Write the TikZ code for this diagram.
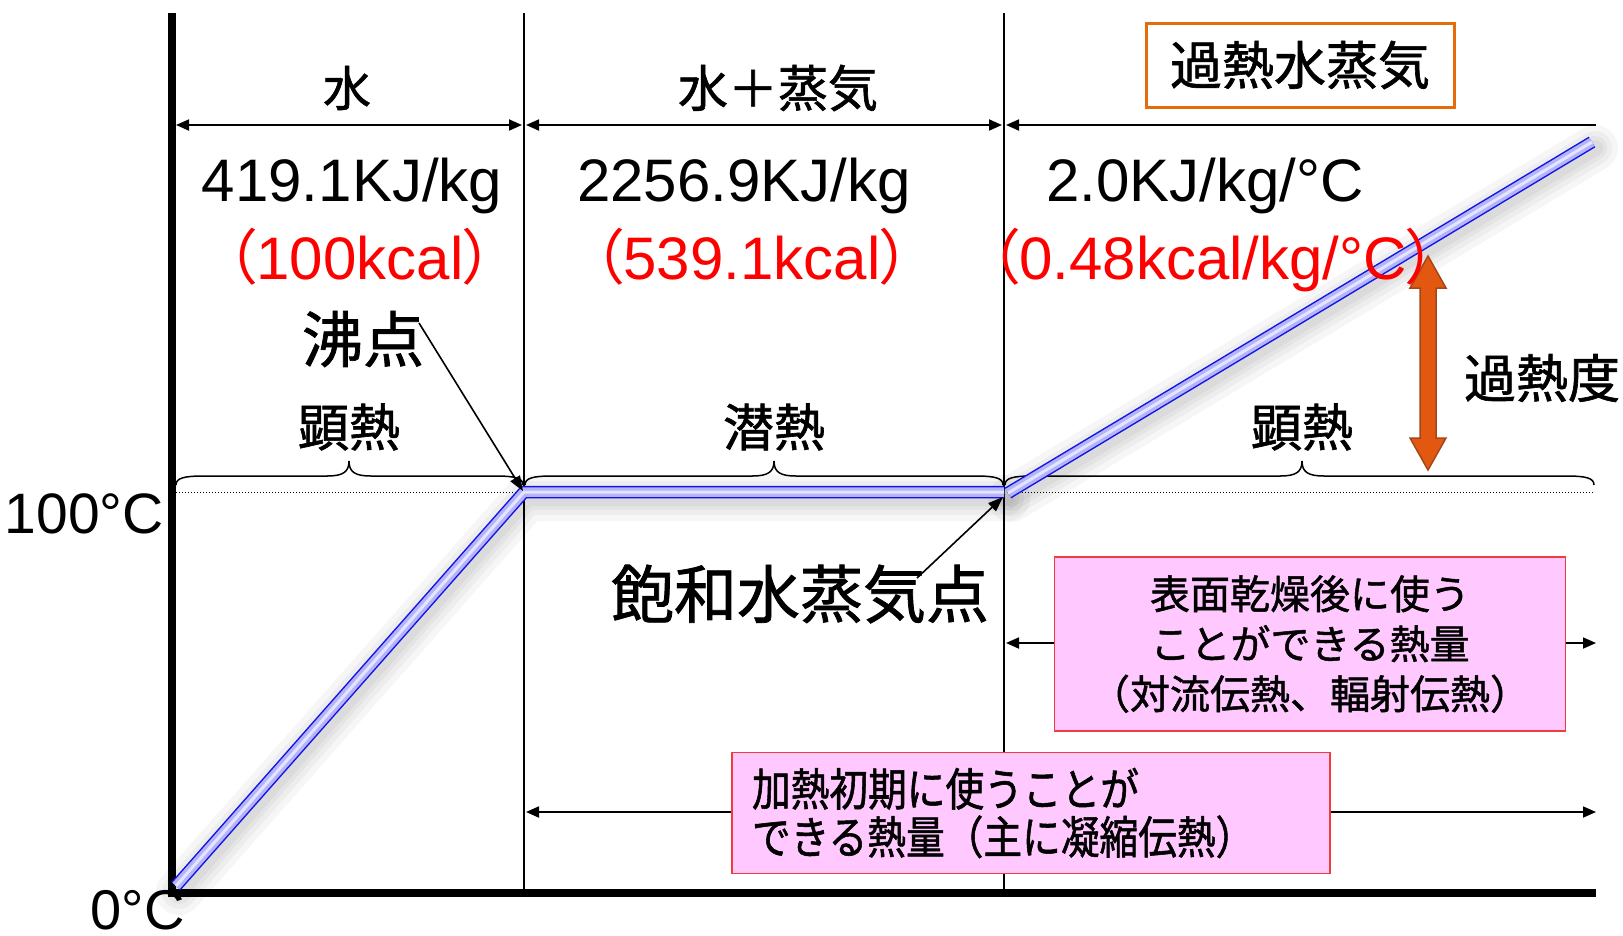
\documentclass[tikz,border=0pt]{standalone}
\usepackage{fontspec}
\setmainfont{Liberation Sans}
\newfontfamily\jp{Noto Sans CJK JP}[FakeBold=1.2]
\newfontfamily\jpp{Noto Sans CJK JP}[RawFeature=+palt]
\newfontfamily\jpc{Noto Sans CJK JP}[FakeStretch=0.86,FakeBold=1.2]
\usetikzlibrary{arrows.meta}
\newcommand\setfs[1]{\fontsize{#1}{#1}\selectfont}
\definecolor{bandblue}{RGB}{20,20,230}
\definecolor{bandfill}{RGB}{180,180,250}
\definecolor{bandlight}{RGB}{228,228,255}
\definecolor{boxpink}{RGB}{255,200,255}
\definecolor{boxred}{RGB}{240,60,60}
\definecolor{orbox}{RGB}{228,108,10}
\definecolor{arrfill}{RGB}{226,88,16}
\definecolor{arrline}{RGB}{165,70,25}
\definecolor{txtred}{RGB}{255,0,0}
\newcommand\mybrace[3]{\draw[bracestyle] (#1,485) .. controls (#1,478) and (#1+8,476) .. (#1+28,476) -- (#3-22,476) .. controls (#3-6,476) and (#3,472) .. (#3,461) .. controls (#3,472) and (#3+6,476) .. (#3+22,476) -- (#2-28,476) .. controls (#2-8,476) and (#2,478) .. (#2,485);}
\tikzset{
  dimline/.style={line width=1.8pt,{Triangle[length=13pt,width=11pt]}-{Triangle[length=13pt,width=11pt]}},
  oneway/.style={line width=1.8pt,-{Triangle[length=13pt,width=11pt]}},
  pointer/.style={line width=1.6pt,-{Triangle[length=15pt,width=11pt]}},
  vline/.style={line width=1.5pt},
  axisline/.style={line width=7.5pt},
  bracestyle/.style={line width=1.5pt},
  pinkbox/.style={draw=boxred, fill=boxpink, line width=1.5pt},
  lab/.style={font=\jp\setfs{51}, inner sep=0pt},
  num/.style={font=\setfs{60}, anchor=base, inner sep=0pt},
  rednum/.style={num, text=txtred},
  glow/.style={line width=#1, black, opacity=0.035, line join=round, line cap=round},
}
\begin{document}
\begin{tikzpicture}[x=1pt,y=-1pt]
\useasboundingbox (0,0) rectangle (1623,935);
\fill[white] (0,0) rectangle (1623,935);

% key coordinates
\coordinate (o) at (176,886);
\coordinate (bp) at (524,492);
\coordinate (sv) at (1004,492);
\coordinate (ds) at (1008,493);
\coordinate (de) at (1592,142);

% glow / shadow of curve
\foreach \w in {46,34,24,16}{
  \draw[glow=\w pt] ([shift={(3,6)}]o) -- ([shift={(3,6)}]bp) -- ([shift={(3,6)}]sv);
  \draw[glow=\w pt] ([shift={(3,6)}]ds) -- ([shift={(3,6)}]de);
}

% axes and vertical dividers
\coordinate (axtop) at (172,13);
\coordinate (axbot) at (172,897);
\coordinate (bxl) at (168,893);
\coordinate (bxr) at (1596,893);
\draw[axisline] (axtop) -- (axbot);
\draw[axisline] (bxl) -- (bxr);
\coordinate (v1t) at (524,13); \coordinate (v1b) at (524,893);
\coordinate (v2t) at (1004,13); \coordinate (v2b) at (1004,893);
\draw[vline] (v1t) -- (v1b);
\draw[vline] (v2t) -- (v2b);

% dotted 100C line
\coordinate (dl) at (176,492); \coordinate (dr) at (1594,492);
\draw[line width=1pt, dash pattern=on 1pt off 2pt] (dl) -- (dr);

% top dimension arrows
\coordinate (a1) at (176,125); \coordinate (a2) at (522,125);
\coordinate (a3) at (526,125); \coordinate (a4) at (1002,125);
\coordinate (a5) at (1006,125); \coordinate (a6) at (1596,125);
\draw[dimline] (a1) -- (a2);
\draw[dimline] (a3) -- (a4);
\draw[oneway] (a6) -- (a5);

% braces
\mybrace{176}{523}{349}
\mybrace{525}{1003}{774}
\mybrace{1005}{1594}{1302}

% range arrows behind boxes
\coordinate (r1l) at (1006,643); \coordinate (r1r) at (1596,643);
\draw[dimline] (r1l) -- (r1r);
\coordinate (r2l) at (526,812); \coordinate (r2r) at (1596,812);
\draw[dimline] (r2l) -- (r2r);

% pink boxes
\node[pinkbox, minimum width=511pt, minimum height=174pt, inner sep=0pt, align=center,
      font=\jp\fontsize{40}{50}\selectfont] (pb1) at (1310,644)
  {表面乾燥後に使う\\ことができる熱量\\（対流伝熱、輻射伝熱）};
\node[pinkbox, minimum height=121pt, text width=558pt, inner xsep=20pt, inner ysep=0pt, align=left,
      font=\jpc\fontsize{45}{48}\selectfont] (pb2) at (1031,813)
  {加熱初期に使うことが\\できる熱量（主に凝縮伝熱）};

% steam curve band
\draw[bandblue, line width=12.5pt, line join=miter] (o) -- (bp) -- (sv);
\draw[bandfill, line width=9.5pt, line join=miter] (o) -- (bp) -- (sv);
\draw[bandlight, line width=3pt, line join=miter] (o) -- (bp) -- (sv);
\draw[bandblue, line width=12.5pt] (ds) -- (de);
\draw[bandfill, line width=9.5pt] (ds) -- (de);
\draw[bandlight, line width=3pt] (ds) -- (de);

% superheat arrow
\path[fill=arrfill, draw=arrline, line width=1.5pt, line join=miter]
  (1428,256) -- (1446,288) -- (1436,288) -- (1436,438) -- (1446,438) -- (1428,470)
  -- (1410,438) -- (1420,438) -- (1420,288) -- (1410,288) -- cycle;

% header labels
\node[lab, font=\jp\setfs{48}] (wat) at (347,88) {水};
\node[lab, font=\jp\setfs{50}] (wst) at (778,88) {水＋蒸気};
\node[draw=orbox, line width=3pt, minimum width=308pt, minimum height=84pt, inner sep=0pt,
      font=\jp\setfs{52}] (ohb) at (1300,65) {過熱水蒸気};

% values
\node[num] (n1) at (352,201) {419.1KJ/kg};
\node[num] (n2) at (744,201) {2256.9KJ/kg};
\node[num] (n3) at (1205,201) {2.0KJ/kg/°C};
\node[rednum] (rd1) at (360,279) {{\jpp （}100kcal{\jpp ）}};
\node[rednum] (rd2) at (752,279) {{\jpp （}539.1kcal{\jpp ）}};
\node[rednum] (rd3) at (1213,279) {{\jpp （}0.48kcal/kg/°C{\jpp ）}};

% labels
\node[lab, font=\jp\setfs{61}] (fut) at (363,339) {沸点};
\node[lab] (k1) at (349,427) {顕熱};
\node[lab] (k2) at (774,427) {潜熱};
\node[lab] (k3) at (1302,427) {顕熱};
\node[lab, font=\jp\setfs{52}] (kd) at (1542,378) {過熱度};
\node[lab, font=\jp\setfs{63}] (hs) at (800,594) {飽和水蒸気点};
\node[num, anchor=base east, font=\setfs{57}] (t100) at (164,533) {100°C};
\node[num, anchor=base east, font=\setfs{56}] (t0) at (185,929) {0°C};

% pointers
\coordinate (fs) at (419,323); \coordinate (bpt) at (523,491);
\draw[pointer] (fs) -- (bpt);
\coordinate (hst) at (917,578); \coordinate (svt) at (1003,497);
\draw[pointer] (hst) -- (svt);
\end{tikzpicture}
\end{document}
